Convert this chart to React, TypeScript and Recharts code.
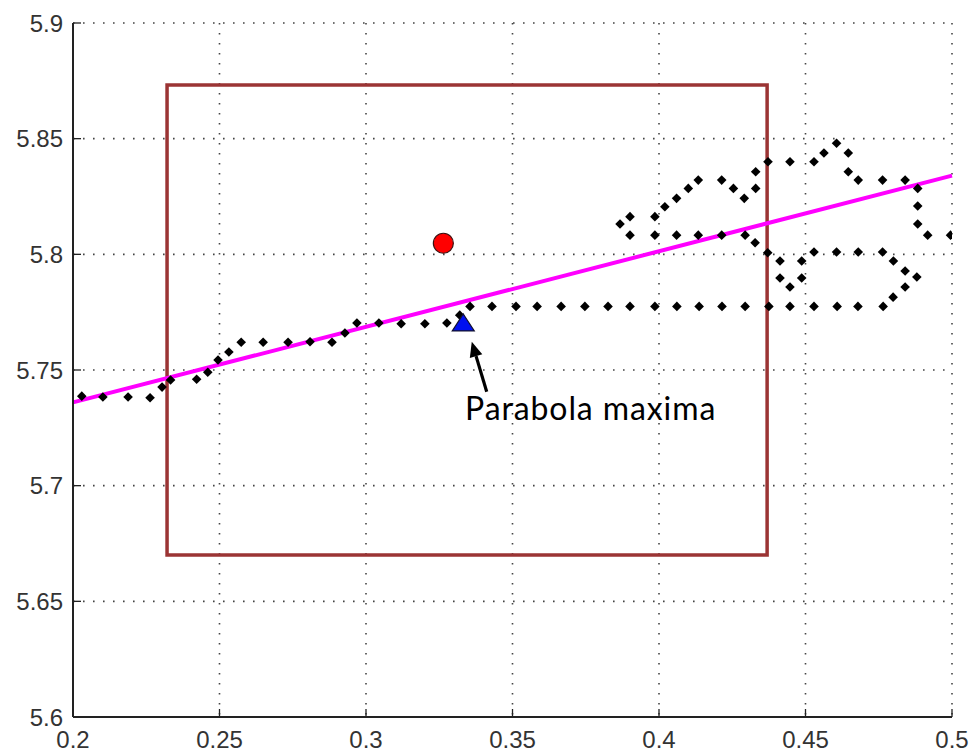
import React from 'react';
import {
  ComposedChart,
  Scatter,
  XAxis,
  YAxis,
  CartesianGrid,
  ReferenceLine,
  ReferenceArea,
} from 'recharts';

// ── Data ─────────────────────────────────────────────────────────────────────

const X_TICKS = [0.2, 0.25, 0.3, 0.35, 0.4, 0.45, 0.5];
const Y_TICKS = [5.6, 5.65, 5.7, 5.75, 5.8, 5.85, 5.9];

// trajectory samples (black diamonds), [x, y]
const TRACK: [number, number][] = [
  [0.203, 5.7387], [0.2102, 5.7383], [0.2188, 5.7383], [0.2263, 5.738],
  [0.2304, 5.7426], [0.2333, 5.7457], [0.2422, 5.746], [0.246, 5.749],
  [0.2495, 5.7543], [0.2532, 5.7578], [0.2574, 5.762], [0.2649, 5.762],
  [0.2734, 5.762], [0.2809, 5.7622], [0.2884, 5.762], [0.2928, 5.766],
  [0.2969, 5.7703], [0.3044, 5.7703], [0.312, 5.77], [0.3201, 5.77],
  [0.3276, 5.7703], [0.332, 5.7737],
  [0.3355, 5.7775], [0.343, 5.7775], [0.3512, 5.7775], [0.3584, 5.7775],
  [0.3666, 5.7775], [0.3747, 5.7775], [0.3826, 5.7775], [0.3901, 5.7775],
  [0.3986, 5.7775], [0.4061, 5.7775], [0.4137, 5.7775], [0.4215, 5.7775],
  [0.4294, 5.7775], [0.4375, 5.7775], [0.4447, 5.7775], [0.4529, 5.7775],
  [0.4608, 5.7775], [0.4679, 5.7775], [0.4765, 5.7775],
  [0.4799, 5.7815], [0.484, 5.7859], [0.488, 5.7902], [0.484, 5.7928],
  [0.48, 5.7971],
  [0.4763, 5.801], [0.468, 5.801], [0.4606, 5.801], [0.4529, 5.801],
  [0.4487, 5.7971], [0.4487, 5.7898], [0.4447, 5.7859], [0.4413, 5.7898],
  [0.4413, 5.7971], [0.4371, 5.8007], [0.4328, 5.805], [0.4294, 5.8083],
  [0.4214, 5.8083], [0.4134, 5.8083], [0.406, 5.8083], [0.3986, 5.8083],
  [0.3901, 5.8083],
  [0.3867, 5.8131], [0.3901, 5.8163], [0.3986, 5.8163], [0.402, 5.8206],
  [0.406, 5.8242], [0.41, 5.8285], [0.4134, 5.8321], [0.4214, 5.8321],
  [0.4254, 5.8285], [0.4291, 5.8242], [0.433, 5.8285], [0.433, 5.8357],
  [0.4372, 5.84], [0.4447, 5.84], [0.4529, 5.84], [0.4563, 5.8438],
  [0.4606, 5.848], [0.4646, 5.8438], [0.4646, 5.8357], [0.468, 5.8321],
  [0.4763, 5.8321], [0.484, 5.8321], [0.4883, 5.8285], [0.4883, 5.8209],
  [0.4883, 5.8131], [0.4917, 5.8083], [0.4995, 5.8083],
];

const FIT_LINE = [
  { x: 0.2, y: 5.736 },
  { x: 0.5, y: 5.834 },
];

const BOX = { x1: 0.2321, x2: 0.4369, y1: 5.67, y2: 5.8732 };

const CENTROID = [{ x: 0.3264, y: 5.8048 }];
const PARABOLA_MAX = [{ x: 0.3332, y: 5.7699 }];

const ARROW = [
  { x: 0.3412, y: 5.7406 },
  { x: 0.3361, y: 5.7622 },
];
const NOTE = [{ x: 0.3338, y: 5.7284, text: 'Parabola maxima' }];

// ── Styling ──────────────────────────────────────────────────────────────────

const W = 971;
const H = 753;
const TICK_FONT = '"Liberation Sans", Arial, sans-serif';
const TICK_LEN = 8;

const fmt = (v: number) => String(+v.toFixed(2));

// ── Ticks (MATLAB style: labels outside, marks pointing in) ─────────────────

function LeftTick({ x, y, payload }: any) {
  const ax = x + 10;
  return (
    <g>
      <line x1={ax} x2={ax + TICK_LEN} y1={y} y2={y} stroke="#222" strokeWidth={1.3} />
      <text x={x} y={y} dy="0.36em" textAnchor="end" fontSize={24} fill="#333" fontFamily={TICK_FONT}>
        {fmt(payload.value)}
      </text>
    </g>
  );
}

function BottomTick({ x, y, payload }: any) {
  const ay = y - 12;
  return (
    <g>
      <line x1={x} x2={x} y1={ay} y2={ay - TICK_LEN} stroke="#222" strokeWidth={1.3} />
      <text x={x} y={y + 1} dy="0.75em" textAnchor="middle" fontSize={24} fill="#333" fontFamily={TICK_FONT}>
        {fmt(payload.value)}
      </text>
    </g>
  );
}

function RightTick({ x, y }: any) {
  return <line x1={x} x2={x - TICK_LEN} y1={y} y2={y} stroke="#222" strokeWidth={1.3} />;
}

function TopTick({ x, y }: any) {
  return <line x1={x} x2={x} y1={y} y2={y + TICK_LEN} stroke="#222" strokeWidth={1.3} />;
}

// ── Marker shapes ────────────────────────────────────────────────────────────

function Diamond({ cx, cy }: any) {
  const r = 4.8;
  return (
    <polygon
      points={`${cx},${cy - r} ${cx + r},${cy} ${cx},${cy + r} ${cx - r},${cy}`}
      fill="#000"
    />
  );
}

function RedDot({ cx, cy }: any) {
  return <circle cx={cx} cy={cy} r={10} fill="#ff0000" stroke="#3a1010" strokeWidth={1.2} />;
}

function BlueTriangle({ cx, cy }: any) {
  return (
    <polygon
      points={`${cx},${cy - 10} ${cx + 11},${cy + 7} ${cx - 11},${cy + 7}`}
      fill="#0010f0"
      stroke="#101030"
      strokeWidth={1.2}
    />
  );
}

function NoteText({ cx, cy, payload }: any) {
  return (
    <text
      x={cx}
      y={cy}
      fontSize={32}
      letterSpacing={0.9}
      fill="#000"
      fontFamily="Lato, 'Open Sans', sans-serif"
    >
      {payload.text}
    </text>
  );
}

function ArrowShape({ x1, y1, x2, y2 }: any) {
  const ang = Math.atan2(y2 - y1, x2 - x1);
  const L = 15;
  const Wd = 6.5;
  const bx = x2 - L * Math.cos(ang);
  const by = y2 - L * Math.sin(ang);
  const px = -Math.sin(ang) * Wd;
  const py = Math.cos(ang) * Wd;
  return (
    <g>
      <line x1={x1} y1={y1} x2={bx} y2={by} stroke="#000" strokeWidth={3.2} />
      <polygon points={`${x2},${y2} ${bx + px},${by + py} ${bx - px},${by - py}`} fill="#000" />
    </g>
  );
}

// ── Component ────────────────────────────────────────────────────────────────

export default function App() {
  const track = TRACK.map(([x, y]) => ({ x, y }));
  return (
    <div style={{ position: 'absolute', left: 0, top: 0, width: W, height: H, background: '#fff' }}>
      <ComposedChart width={W} height={H} margin={{ top: 23, right: 19, bottom: 0, left: 0 }}>
        <CartesianGrid stroke="#444" strokeWidth={1.6} strokeDasharray="1.6 8.4" />
        <XAxis
          type="number"
          dataKey="x"
          domain={[0.2, 0.5]}
          ticks={X_TICKS}
          allowDataOverflow
          height={36}
          tickSize={0}
          tickMargin={12}
          axisLine={{ stroke: '#222', strokeWidth: 2 }}
          tick={<BottomTick />}
        />
        <XAxis
          xAxisId="top"
          orientation="top"
          type="number"
          dataKey="x"
          domain={[0.2, 0.5]}
          ticks={X_TICKS}
          allowDataOverflow
          height={0}
          tickSize={0}
          tickMargin={0}
          axisLine={{ stroke: '#222', strokeWidth: 2 }}
          tick={<TopTick />}
        />
        <YAxis
          type="number"
          dataKey="y"
          domain={[5.6, 5.9]}
          ticks={Y_TICKS}
          allowDataOverflow
          width={73}
          tickSize={0}
          tickMargin={10}
          axisLine={{ stroke: '#222', strokeWidth: 2 }}
          tick={<LeftTick />}
        />
        <YAxis
          yAxisId="right"
          orientation="right"
          type="number"
          dataKey="y"
          domain={[5.6, 5.9]}
          ticks={Y_TICKS}
          allowDataOverflow
          width={0}
          tickSize={0}
          tickMargin={0}
          axisLine={{ stroke: '#222', strokeWidth: 2 }}
          tick={<RightTick />}
        />

        <Scatter data={track} shape={<Diamond />} isAnimationActive={false} />

        <ReferenceLine
          segment={FIT_LINE}
          stroke="#ff00ff"
          strokeWidth={4}
          ifOverflow="visible"
        />

        <Scatter data={CENTROID} shape={<RedDot />} isAnimationActive={false} />
        <Scatter data={PARABOLA_MAX} shape={<BlueTriangle />} isAnimationActive={false} />

        <ReferenceArea
          x1={BOX.x1}
          x2={BOX.x2}
          y1={BOX.y1}
          y2={BOX.y2}
          fill="none"
          fillOpacity={0}
          stroke="#9b3434"
          strokeWidth={3.5}
          ifOverflow="visible"
        />

        <ReferenceLine segment={ARROW} shape={<ArrowShape />} ifOverflow="visible" />
        <Scatter data={NOTE} shape={<NoteText />} isAnimationActive={false} />
      </ComposedChart>
    </div>
  );
}
